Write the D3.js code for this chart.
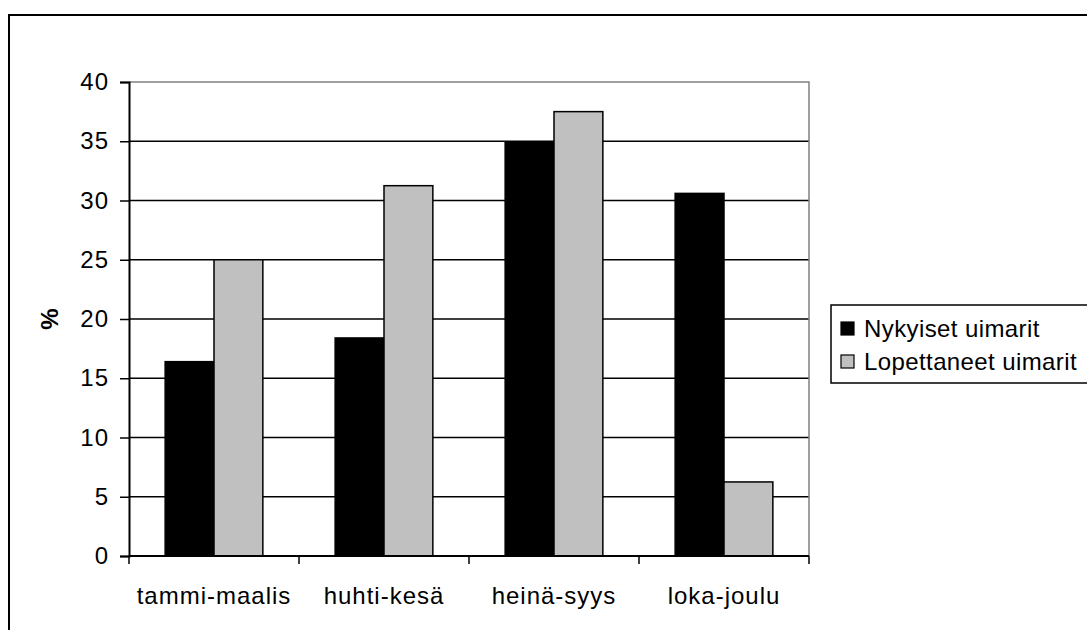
<!DOCTYPE html>
<html>
<head>
<meta charset="utf-8">
<script src="https://cdn.jsdelivr.net/npm/d3@7"></script>
<style>
  html, body { margin: 0; padding: 0; background: #fff; }
  svg { display: block; }
  text { font-family: "Liberation Sans", Arial, sans-serif; fill: #000; }
</style>
</head>
<body>
<svg id="chart" width="1087" height="630"></svg>
<script>
// Quarters of the year
const categories = ["tammi-maalis", "huhti-kesä", "heinä-syys", "loka-joulu"];
// Share of swimmers (%) per quarter
const nykyiset = [16.4, 18.4, 34.9, 30.6];
const lopettaneet = [25.0, 31.25, 37.5, 6.25];
const seriesNames = ["Nykyiset uimarit", "Lopettaneet uimarit"];
const seriesColors = ["#000000", "#c0c0c0"];
const yTicks = [0, 5, 10, 15, 20, 25, 30, 35, 40];
const yTitle = "%";

const svg = d3.select("#chart");

// Outer chart frame (runs off the right and bottom edges)
svg.append("rect")
  .attr("x", 9).attr("y", 15)
  .attr("width", 1200).attr("height", 700)
  .attr("fill", "none").attr("stroke", "#000").attr("stroke-width", 2);

const plot = { left: 129, right: 809, top: 82, bottom: 556 };

const x = d3.scaleBand().domain(categories).range([plot.left, plot.right]).padding(0);
const xInner = d3.scaleBand().domain(seriesNames).range([0, x.bandwidth()])
  .paddingInner(0).paddingOuter(0.74);
const y = d3.scaleLinear().domain([0, 40]).range([plot.bottom, plot.top]);

const g = svg.append("g");

// Horizontal gridlines
g.selectAll("line.grid")
  .data(yTicks.filter(t => t > 0 && t < 40))
  .join("line")
  .attr("class", "grid")
  .attr("x1", plot.left).attr("x2", plot.right)
  .attr("y1", d => y(d)).attr("y2", d => y(d))
  .attr("stroke", "#000").attr("stroke-width", 1.3);

// Plot area border (top and right in gray)
g.append("path")
  .attr("d", `M${plot.left},${y(40)}H${plot.right}V${plot.bottom}`)
  .attr("fill", "none").attr("stroke", "#808080").attr("stroke-width", 1.5);

// Bars
const rows = categories.map((c, i) => ({ cat: c, values: [nykyiset[i], lopettaneet[i]] }));
const groups = g.selectAll("g.cat").data(rows).join("g")
  .attr("class", "cat")
  .attr("transform", d => `translate(${x(d.cat)},0)`);
groups.selectAll("rect")
  .data(d => d.values.map((v, j) => ({ name: seriesNames[j], value: v, color: seriesColors[j] })))
  .join("rect")
  .attr("x", d => xInner(d.name))
  .attr("width", xInner.bandwidth())
  .attr("y", d => y(d.value))
  .attr("height", d => y(0) - y(d.value))
  .attr("fill", d => d.color)
  .attr("stroke", "#000").attr("stroke-width", 1.5);

// Y axis
const yAxis = g.append("g")
  .attr("transform", `translate(${plot.left},0)`)
  .call(d3.axisLeft(y).tickValues(yTicks).tickSize(9).tickPadding(11));
yAxis.select(".domain").attr("stroke", "#000").attr("stroke-width", 2);
yAxis.selectAll(".tick line").attr("stroke", "#000").attr("stroke-width", 1.5);
yAxis.selectAll(".tick text")
  .attr("font-family", "Liberation Sans, Arial, sans-serif")
  .attr("font-size", 24).attr("letter-spacing", 1).attr("fill", "#000");

// X axis with ticks between categories
const xAxis = g.append("g")
  .attr("transform", `translate(0,${plot.bottom})`);
xAxis.append("line")
  .attr("x1", plot.left).attr("x2", plot.right)
  .attr("stroke", "#000").attr("stroke-width", 2);
const boundaries = categories.map(c => x(c)).concat([x(categories[categories.length - 1]) + x.bandwidth()]);
xAxis.selectAll("line.tick")
  .data(boundaries)
  .join("line")
  .attr("class", "tick")
  .attr("x1", d => d).attr("x2", d => d)
  .attr("y1", 0).attr("y2", 8)
  .attr("stroke", "#000").attr("stroke-width", 1.5);
xAxis.selectAll("text")
  .data(categories)
  .join("text")
  .attr("x", d => x(d) + x.bandwidth() / 2)
  .attr("y", 48)
  .attr("text-anchor", "middle")
  .attr("font-size", 24).attr("letter-spacing", 1)
  .text(d => d);

// Y axis title
svg.append("text")
  .attr("transform", `translate(58,${(plot.top + plot.bottom) / 2}) rotate(-90)`)
  .attr("text-anchor", "middle")
  .attr("font-size", 24).attr("font-weight", "bold")
  .text(yTitle);

// Legend
const legend = svg.append("g").attr("transform", "translate(831,305)");
legend.append("rect")
  .attr("x", 0).attr("y", 0).attr("width", 300).attr("height", 78)
  .attr("fill", "#fff").attr("stroke", "#000").attr("stroke-width", 1.5);
const items = legend.selectAll("g.item").data(seriesNames).join("g")
  .attr("class", "item")
  .attr("transform", (d, i) => `translate(10,${17 + i * 33})`);
items.append("rect")
  .attr("width", 13).attr("height", 13)
  .attr("fill", (d, i) => seriesColors[i])
  .attr("stroke", "#000").attr("stroke-width", 1.2);
items.append("text")
  .attr("x", 23).attr("y", 15)
  .attr("font-size", 24).attr("letter-spacing", 0.4)
  .text(d => d);
</script>
</body>
</html>
